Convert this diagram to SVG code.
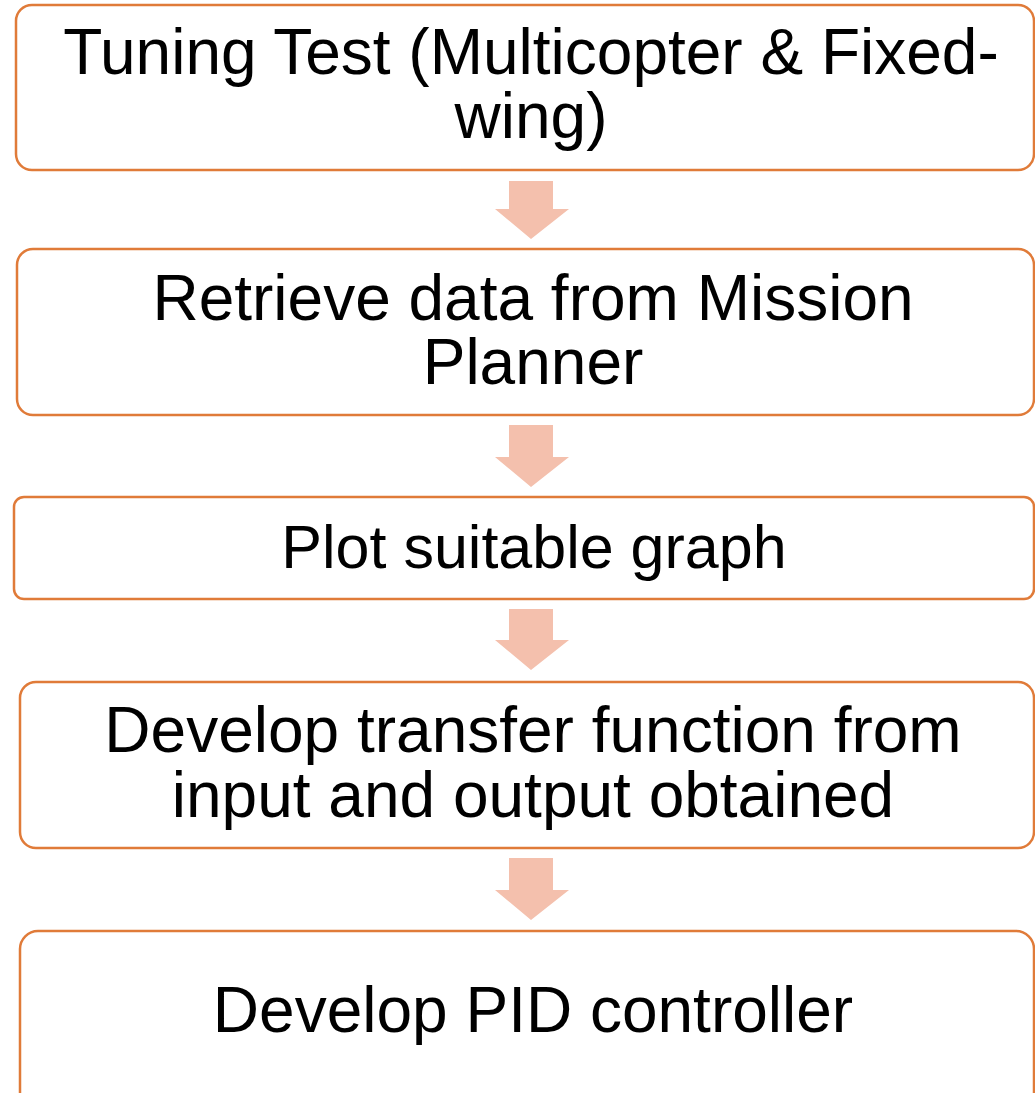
<svg xmlns="http://www.w3.org/2000/svg" width="1035" height="1093" viewBox="0 0 1035 1093">
<style>
.box{fill:#ffffff;stroke:#E07B39;stroke-width:2.5}
.arr{fill:#F4C0AD}
.t{font-family:"Liberation Sans",Arial,sans-serif;font-size:64px;fill:#000000;text-anchor:middle}
.s{font-size:61px}
</style>
<rect width="1035" height="1093" fill="#ffffff"/>
<g id="connectors">
<polygon class="arr" points="509,181 553,181 553,209 569,209 531,239 495,209 509,209"/>
<polygon class="arr" points="509,425 553,425 553,457 569,457 531,487 495,457 509,457"/>
<polygon class="arr" points="509,609 553,609 553,640 569,640 531,670 495,640 509,640"/>
<polygon class="arr" points="509,858 553,858 553,890 569,890 531,920 495,890 509,890"/>
</g>
<g id="node1">
<rect class="box" x="16" y="5" width="1018" height="165" rx="16"/>
<text class="t" x="531" y="74">Tuning Test (Multicopter &amp; Fixed-</text>
<text class="t" x="531" y="138">wing)</text>
</g>
<g id="node2">
<rect class="box" x="17" y="249" width="1017" height="166" rx="16"/>
<text class="t" x="533" y="320">Retrieve data from Mission</text>
<text class="t" x="533" y="384">Planner</text>
</g>
<g id="node3">
<rect class="box" x="14" y="497" width="1020" height="102" rx="10"/>
<text class="t s" x="534" y="568">Plot suitable graph</text>
</g>
<g id="node4">
<rect class="box" x="20" y="682" width="1014" height="166" rx="16"/>
<text class="t" x="533" y="752">Develop transfer function from</text>
<text class="t" x="533" y="817">input and output obtained</text>
</g>
<g id="node5">
<rect class="box" x="20" y="931" width="1014" height="180" rx="18"/>
<text class="t" x="533" y="1032">Develop PID controller</text>
</g>
</svg>
